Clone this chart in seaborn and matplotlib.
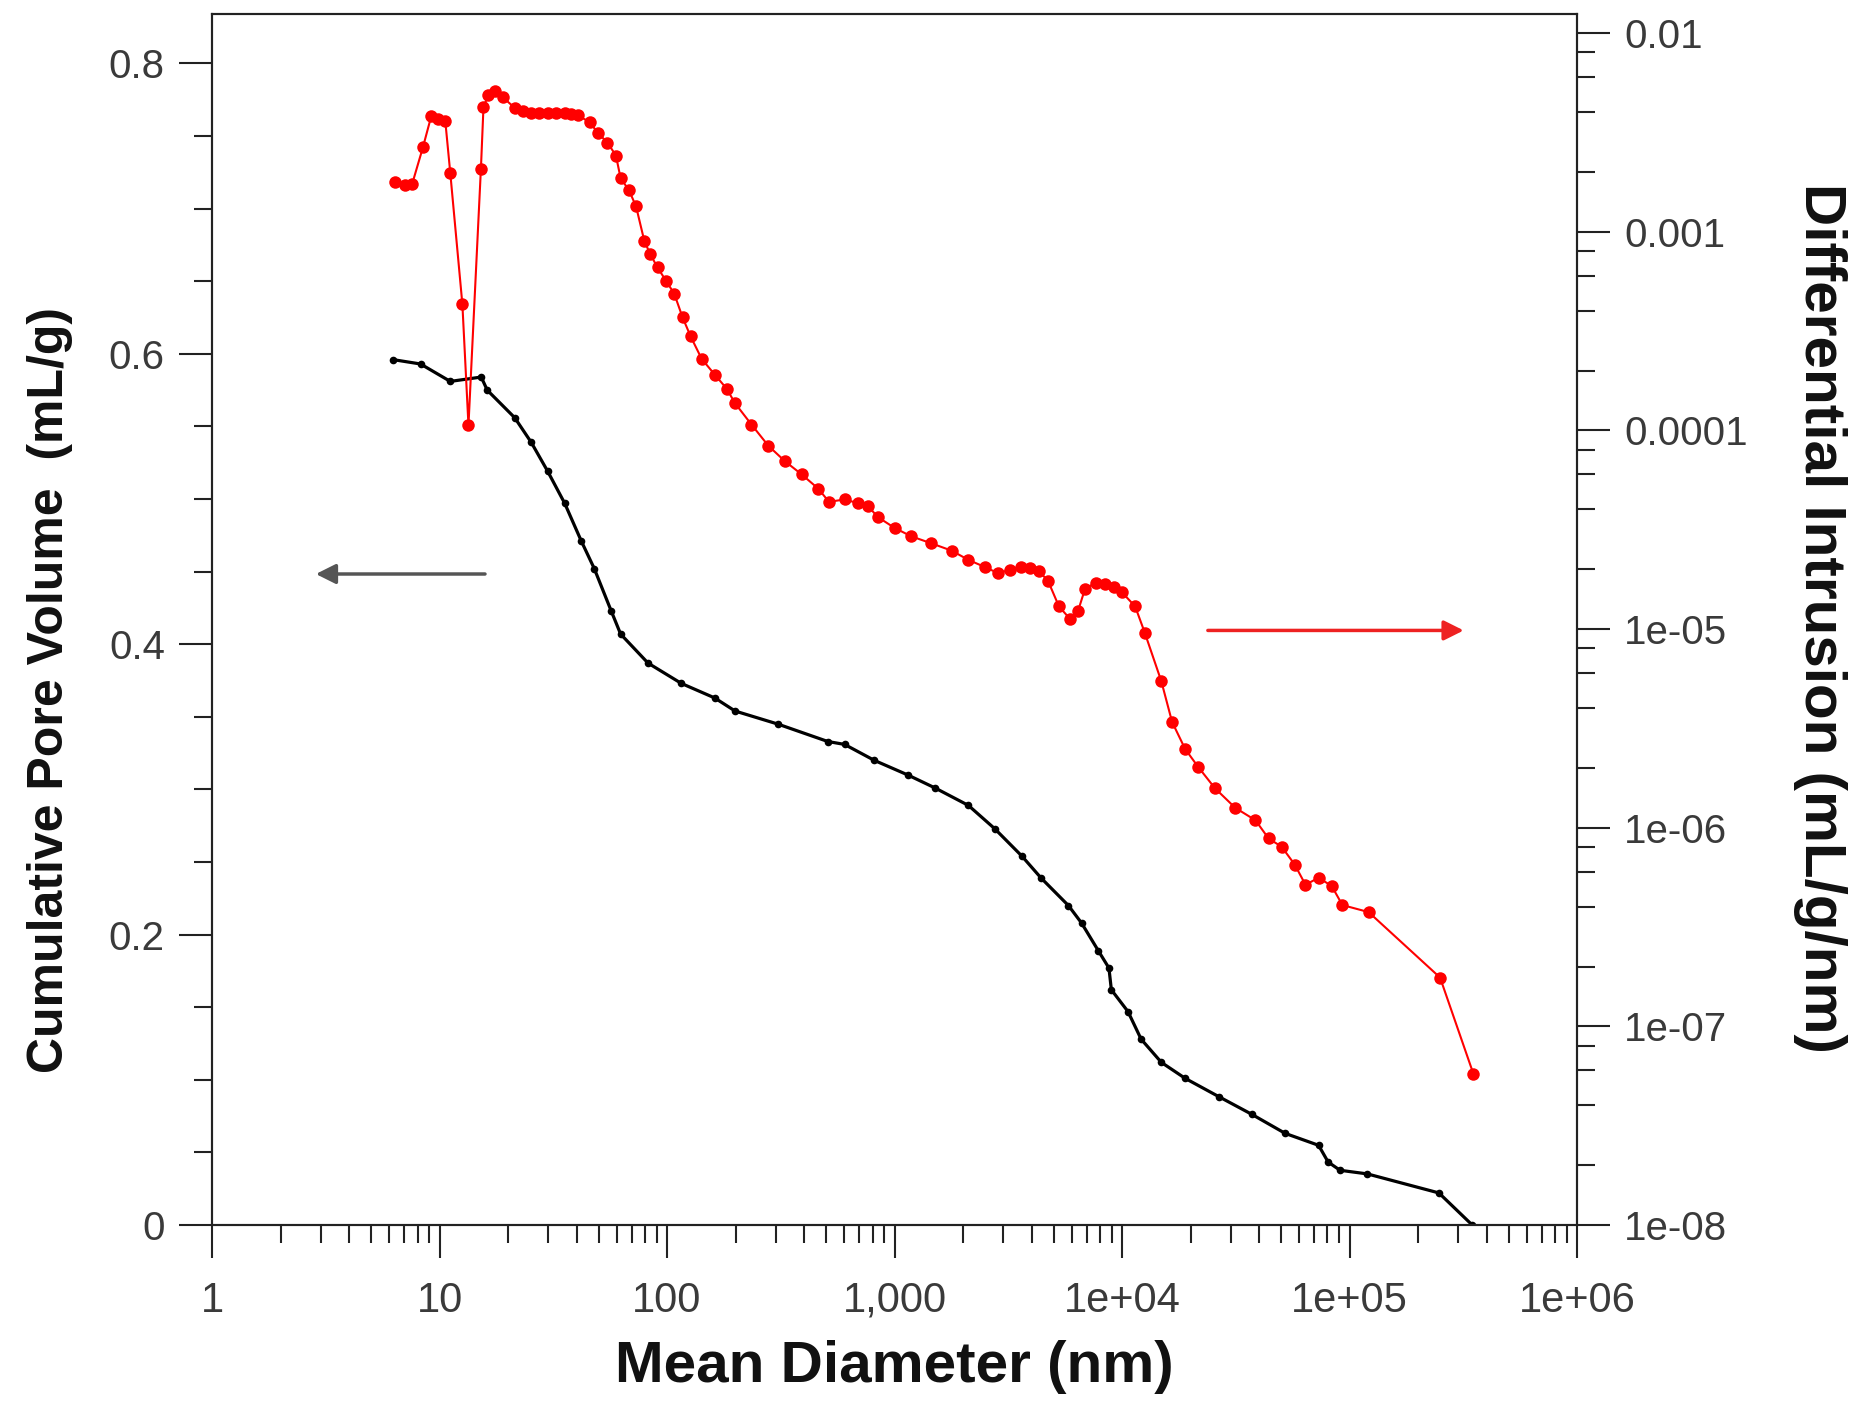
import matplotlib
matplotlib.use("Agg")
import matplotlib.pyplot as plt
from matplotlib.ticker import FixedLocator, FixedFormatter, LogLocator, MultipleLocator, NullFormatter
import seaborn as sns
import pandas as pd

# ---- data ----
# cumulative pore volume (left axis, black)
diam_cum = [6.25, 8.25, 11.15, 15.25, 16.2, 21.4, 25.3, 29.9, 35.5, 42.0, 47.9, 56.8, 62.5,
            82.5, 115.6, 162, 199, 307, 509, 603, 815, 1142, 1507, 2111, 2754, 3633, 4406,
            5813, 6637, 7859, 8757, 8975, 10620, 12130, 14890, 18950, 26560, 37220, 52150,
            73100, 80500, 90800, 119800, 247000, 346200]
vol_cum = [0.596, 0.593, 0.581, 0.584, 0.575, 0.556, 0.539, 0.519, 0.497, 0.471, 0.452, 0.423,
           0.407, 0.387, 0.373, 0.363, 0.354, 0.345, 0.333, 0.331, 0.320, 0.310, 0.301, 0.289,
           0.273, 0.254, 0.239, 0.220, 0.208, 0.189, 0.177, 0.162, 0.147, 0.128, 0.112, 0.101,
           0.0885, 0.0762, 0.0631, 0.0549, 0.0434, 0.0377, 0.0352, 0.0221, 0.0]

# differential intrusion (right axis, red)
diam_diff = [6.40, 7.05, 7.58, 8.45, 9.19, 9.88, 10.6, 11.15, 12.6, 13.4, 15.2, 15.6, 16.4,
             17.6, 19.0, 21.4, 23.2, 25.3, 27.5, 30.0, 32.5, 35.5, 38.0, 40.5, 45.7, 49.7,
             54.7, 59.6, 62.5, 68.0, 73.1, 79.5, 84.5, 90.8, 98.8, 107.5, 117, 127, 142, 162,
             183, 199, 235, 279, 330, 391, 462, 515, 603, 688, 767, 845, 1000, 1184, 1453,
             1784, 2111, 2500, 2854, 3220, 3589, 3954, 4301, 4736, 5280, 5884, 6401, 6882,
             7670, 8448, 9191, 10000, 11420, 12580, 14890, 16590, 18940, 21630, 25610, 31430,
             38590, 44060, 50300, 57430, 64030, 73100, 83460, 93020, 121300, 250000, 350400]
diff_intr = [1.78e-3, 1.71e-3, 1.74e-3, 2.66e-3, 3.81e-3, 3.70e-3, 3.60e-3, 1.97e-3, 4.31e-4,
             1.06e-4, 2.08e-3, 4.25e-3, 4.88e-3, 5.09e-3, 4.75e-3, 4.20e-3, 4.05e-3, 3.97e-3,
             3.97e-3, 3.97e-3, 3.97e-3, 3.97e-3, 3.93e-3, 3.86e-3, 3.56e-3, 3.14e-3, 2.81e-3,
             2.42e-3, 1.86e-3, 1.62e-3, 1.34e-3, 8.96e-4, 7.69e-4, 6.61e-4, 5.68e-4, 4.88e-4,
             3.71e-4, 2.97e-4, 2.29e-4, 1.91e-4, 1.62e-4, 1.37e-4, 1.07e-4, 8.36e-5, 6.99e-5,
             6.00e-5, 5.09e-5, 4.37e-5, 4.49e-5, 4.31e-5, 4.14e-5, 3.66e-5, 3.23e-5, 2.93e-5,
             2.70e-5, 2.48e-5, 2.23e-5, 2.05e-5, 1.91e-5, 1.99e-5, 2.05e-5, 2.02e-5, 1.97e-5,
             1.74e-5, 1.30e-5, 1.13e-5, 1.23e-5, 1.60e-5, 1.71e-5, 1.69e-5, 1.62e-5, 1.53e-5,
             1.30e-5, 9.60e-6, 5.45e-6, 3.41e-6, 2.49e-6, 2.02e-6, 1.58e-6, 1.26e-6, 1.09e-6,
             8.83e-7, 8.02e-7, 6.52e-7, 5.16e-7, 5.60e-7, 5.09e-7, 4.08e-7, 3.76e-7, 1.76e-7,
             5.76e-8]

x_ticks = [1, 10, 100, 1000, 1e4, 1e5, 1e6]
x_tick_labels = ["1", "10", "100", "1,000", "1e+04", "1e+05", "1e+06"]
left_ticks = [0, 0.2, 0.4, 0.6, 0.8]
left_tick_labels = ["0", "0.2", "0.4", "0.6", "0.8"]
right_ticks = [1e-8, 1e-7, 1e-6, 1e-5, 1e-4, 1e-3, 1e-2]
right_tick_labels = ["1e-08", "1e-07", "1e-06", "1e-05", "0.0001", "0.001", "0.01"]

df_cum = pd.DataFrame({"diam": diam_cum, "vol": vol_cum})
df_diff = pd.DataFrame({"diam": diam_diff, "intr": diff_intr})

sns.set_style("ticks")
plt.rcParams["font.family"] = ["Liberation Sans", "DejaVu Sans"]

fig = plt.figure(figsize=(18.65, 14.05), dpi=100)
ax = fig.add_axes([0.1137, 0.1281, 0.7319, 0.8619])
ax.set_xscale("log")
ax2 = ax.twinx()
ax2.set_yscale("log")

sns.lineplot(data=df_cum, x="diam", y="vol", ax=ax, color="black", linewidth=2.3,
             marker="o", markersize=5.5, markeredgewidth=0)
sns.lineplot(data=df_diff, x="diam", y="intr", ax=ax2, color="#ff0000", linewidth=1.5,
             marker="o", markersize=9, markeredgewidth=0)

ax.set_xlim(1, 1e6)
ax.set_ylim(0, 0.834)
ax2.set_ylim(1e-8, 0.01247)

tick_color = "#3a3a3a"
ax.xaxis.set_major_locator(FixedLocator(x_ticks))
ax.xaxis.set_major_formatter(FixedFormatter(x_tick_labels))
ax.xaxis.set_minor_locator(LogLocator(base=10, subs=range(2, 10), numticks=20))
ax.xaxis.set_minor_formatter(NullFormatter())
ax.yaxis.set_major_locator(FixedLocator(left_ticks))
ax.yaxis.set_major_formatter(FixedFormatter(left_tick_labels))
ax.yaxis.set_minor_locator(MultipleLocator(0.05))
ax2.yaxis.set_major_locator(FixedLocator(right_ticks))
ax2.yaxis.set_major_formatter(FixedFormatter(right_tick_labels))
ax2.yaxis.set_minor_locator(LogLocator(base=10, subs=(2, 4, 6, 8), numticks=20))
ax2.yaxis.set_minor_formatter(NullFormatter())

for a in (ax, ax2):
    a.tick_params(which="major", length=24, width=1.5, direction="out",
                  labelsize=29, labelcolor=tick_color, color="#222222")
    a.tick_params(which="minor", length=13, width=1.5, direction="out", color="#222222")
    for s in a.spines.values():
        s.set_linewidth(1.5)
        s.set_color("#222222")
ax.tick_params(axis="x", which="major", pad=16, labelsize=30)
ax.tick_params(axis="y", which="major", pad=10)
ax2.tick_params(axis="y", which="major", pad=10)

ax.set_xlabel("Mean Diameter (nm)", fontsize=42, fontweight="bold", color="#111111")
ax.xaxis.set_label_coords(0.5, -0.095)
ax.set_ylabel("Cumulative Pore Volume  (mL/g)", fontsize=36, fontweight="bold",
              color="#111111", va="center")
ax.yaxis.set_label_coords(-0.119, 0.442)
ax2.set_ylabel("Differential Intrusion (mL/g/nm)", fontsize=42, fontweight="bold",
               color="#111111", rotation=270, va="center")
ax2.yaxis.set_label_coords(1.178, 0.501)

# direction arrows
ax.annotate("", xy=(0.074, 0.5376), xytext=(0.202, 0.5376), xycoords="axes fraction",
            arrowprops=dict(arrowstyle="-|>", color="#555555", lw=2.5, mutation_scale=30))
ax.annotate("", xy=(0.919, 0.491), xytext=(0.7275, 0.491), xycoords="axes fraction",
            arrowprops=dict(arrowstyle="-|>", color="#ee2222", lw=2.5, mutation_scale=30))

fig.savefig("out.png", dpi=100)
